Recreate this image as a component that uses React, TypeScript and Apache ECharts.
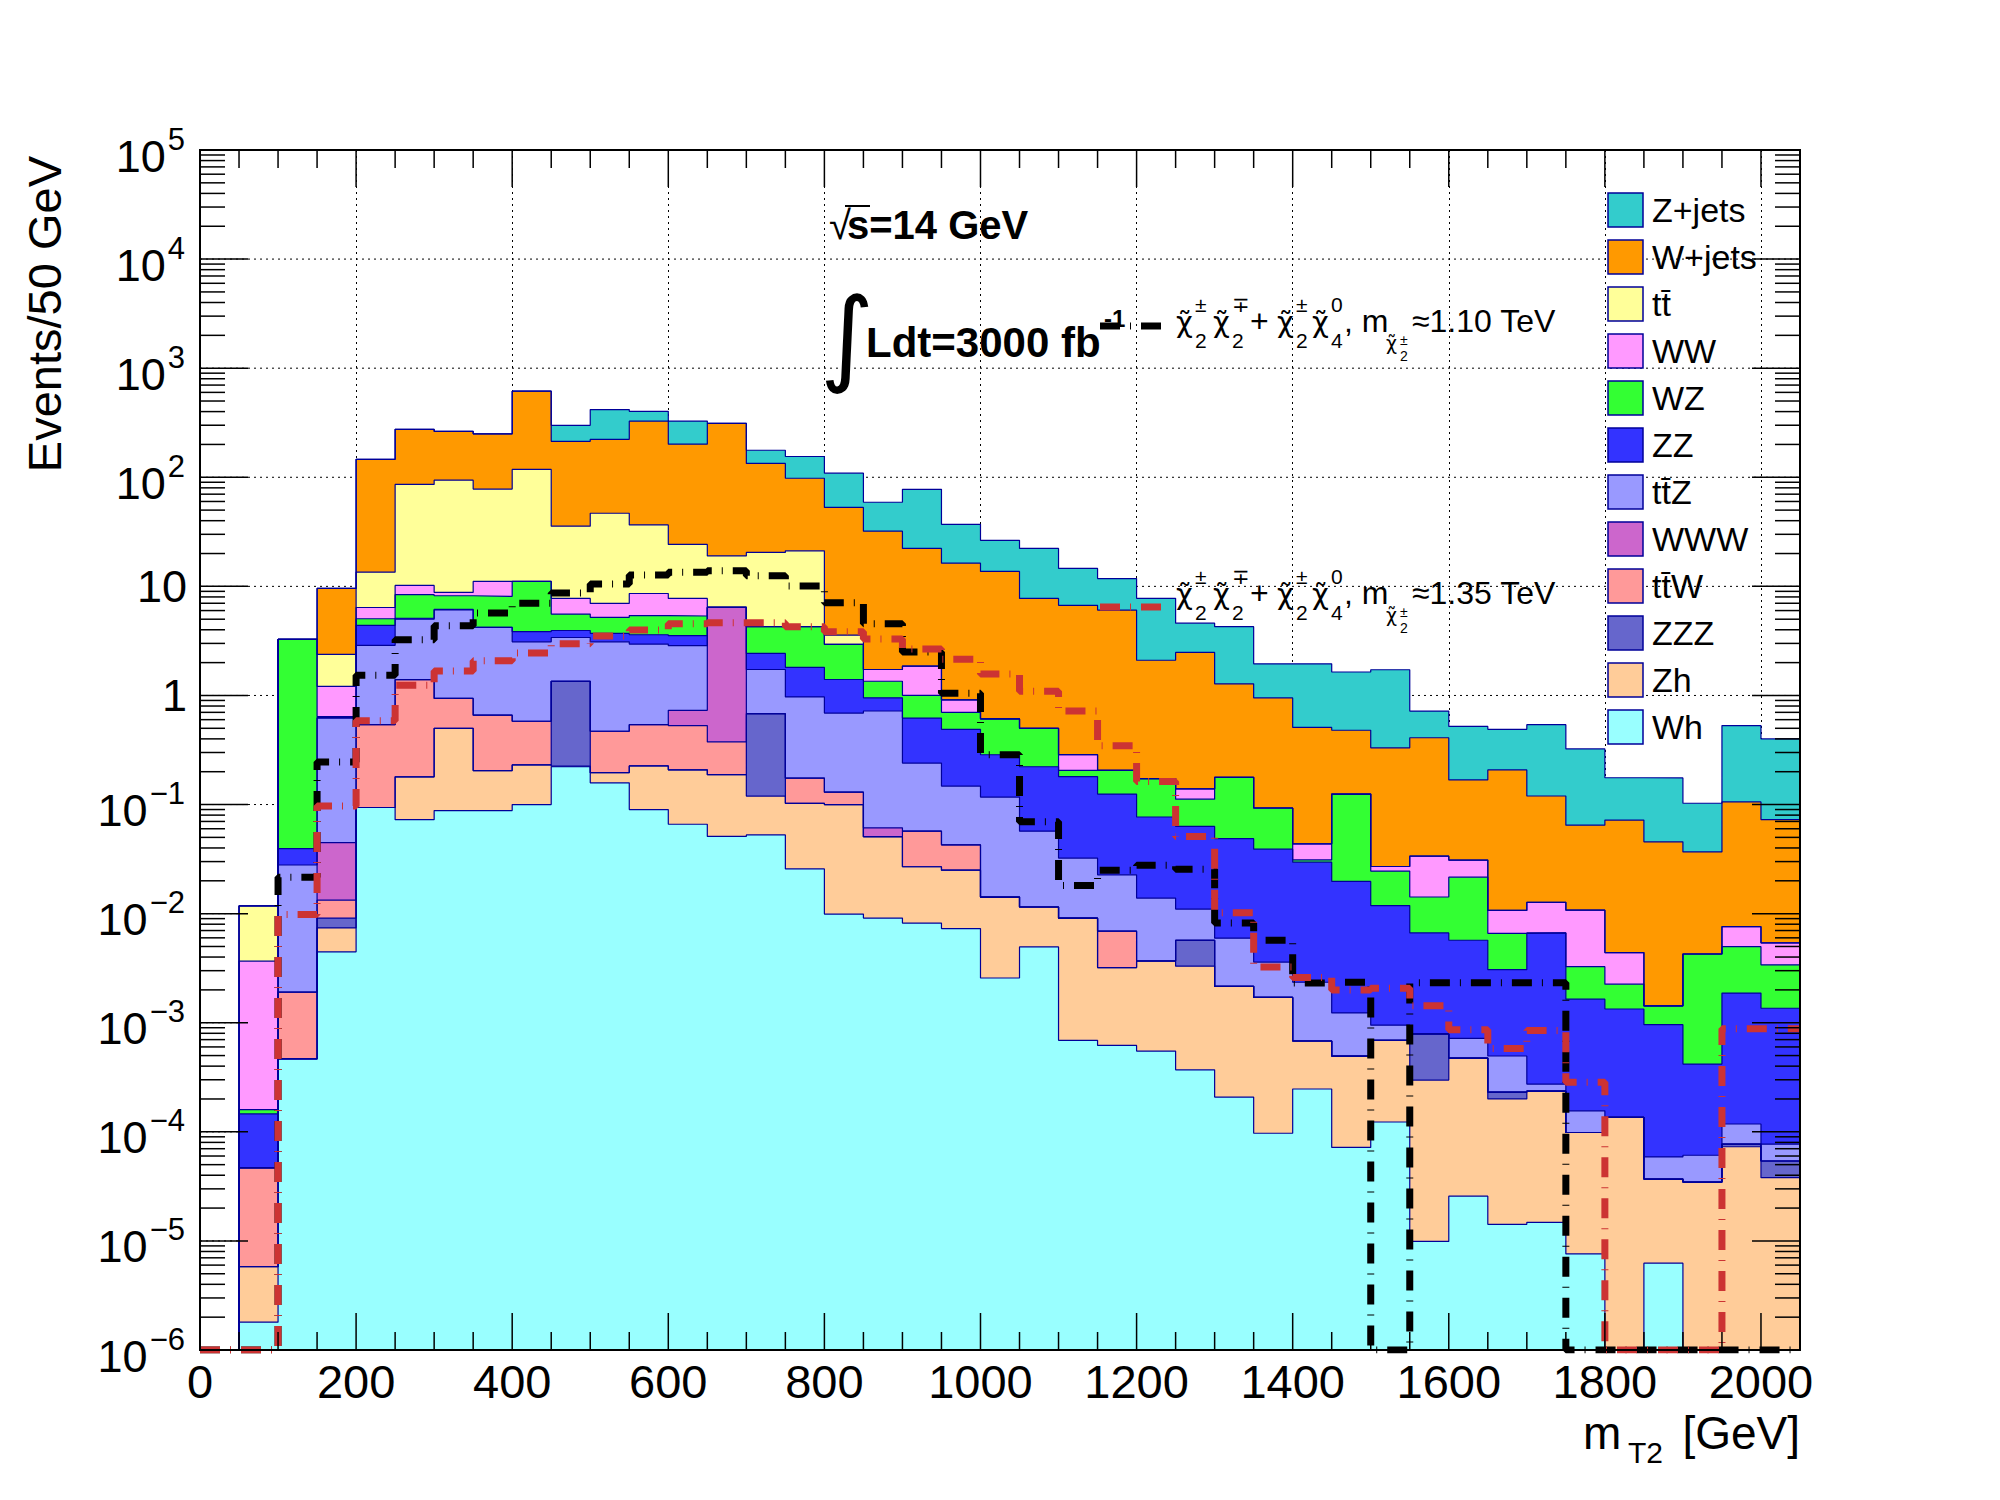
import React, { useEffect, useRef } from "react";
import * as echarts from "echarts";

const FONT = '"Liberation Sans", Arial, Helvetica, sans-serif';
const GREEK = '"DejaVu Sans", "Liberation Sans", sans-serif';

// ---- axis ranges / ticks ----
const X_MIN = 0;
const X_MAX = 2050;
const Y_MIN = 1e-6;
const Y_MAX = 1e5;
const binLowEdges = [
  0, 50, 100, 150, 200, 250, 300, 350, 400, 450,
  500, 550, 600, 650, 700, 750, 800, 850, 900, 950,
  1000, 1050, 1100, 1150, 1200, 1250, 1300, 1350, 1400, 1450,
  1500, 1550, 1600, 1650, 1700, 1750, 1800, 1850, 1900, 1950,
  2000,
];
const xTickLabels = [0, 200, 400, 600, 800, 1000, 1200, 1400, 1600, 1800, 2000];
const yTickPowers = [5, 4, 3, 2, 1, 0, -1, -2, -3, -4, -5, -6];

// ---- background processes (events / 50 GeV), stacked bottom -> top ----
const wh = [
  0, 1.8e-6, 4.66e-4, 4.47e-3, 0.094, 0.0726, 0.088, 0.088, 0.1, 0.222,
  0.158, 0.09, 0.066, 0.051, 0.0527, 0.0257, 0.0099, 0.0091, 0.0082, 0.0073,
  0.00257, 0.00495, 0.00069, 0.00062, 0.00055, 0.00037, 0.000208, 0.000097, 0.000247, 0.000072,
  0.000123, 0.0000099, 0.0000257, 0.0000142, 0.0000148, 0.0000076, 0, 0.00000625, 0, 0,
  0,
];
const zh = [
  0, 4.0e-6, 0, 2.93e-3, 0, 0.107, 0.412, 0.117, 0.131, 0.003,
  0.038, 0.136, 0.142, 0.137, 0.067, 0.077, 0.09, 0.0417, 0.0187, 0.0177,
  0.0116, 0.00655, 0.0084, 0.00258, 0.00313, 0.00293, 0.00195, 0.00161, 0.000433, 0.000423,
  0.000567, 0.000288, 0.000449, 0.000186, 0.000221, 0.000091, 0.000136, 0.0000306, 0.0000346, 0.000073,
  0.000038,
];
const zzz = [
  0, 0, 0, 1.7e-3, 0, 0, 0, 0, 0, 1.125,
  0, 0, 0, 0, 0.56, 0, 0, 0, 0, 0,
  0, 0, 0, 0, 0, 0.0024, 0, 0, 0, 0,
  0, 0.000492, 0, 0.000031, 0, 0, 0, 0, 0, 0.000004,
  0.000016,
];
const ttw = [
  0, 4.1e-5, 1.44e-3, 4.2e-3, 0.446, 1.22, 0.44, 0.455, 0.349, 0,
  0.274, 0.314, 0.322, 0.187, 0, 0.072, 0.03, 0, 0.0301, 0.0177,
  0, 0, 0, 0.0037, 0, 0, 0, 0, 0, 0,
  0, 0, 0, 0, 0, 0, 0, 0, 0, 0,
  0,
];
const www = [
  0, 0, 0, 0.0314, 0, 0, 0, 0, 0, 0,
  0, 0, 0.2, 6.03, 0, 0, 0, 0.0104, 0, 0,
  0, 0, 0, 0, 0, 0, 0, 0, 0, 0,
  0, 0, 0, 0, 0, 0, 0, 0, 0, 0,
  0,
];
const ttz = [
  0, 0, 0.026, 0.575, 2.34, 3.6, 5.16, 3.54, 2.52, 2.05,
  2.63, 2.42, 2.13, 0, 1.05, 0.795, 0.56, 0.659, 0.183, 0.105,
  0.103, 0.0455, 0.0232, 0.0158, 0.0102, 0.0053, 0.0038, 0.00189, 0.00167, 0.000735,
  0.00026, 0, 0.000245, 0.000264, 0.000038, 0.000057, 0, 0.000022, 0.0000264, 0.000041,
  0.000023,
];
const zz = [
  0, 9.9e-5, 0.0115, 0.01, 1.51, 0.1, 0.05, 0, 0.74, 0.54,
  0.61, 0.64, 0.67, 0, 0.7, 0.84, 0.71, 0.23, 0.38, 0.342,
  0.169, 0.165, 0.148, 0.102, 0.063, 0.052, 0.0427, 0.0354, 0.0273, 0.0185,
  0.0109, 0.00586, 0.00498, 0.00257, 0.00638, 0.00149, 0.0012, 0.0009, 0.000357, 0.00175,
  0.00128,
];
const wz = [
  0, 1.4e-5, 3.23, 0.01, 0.66, 3.3, 2.05, 3.9, 7.26, 1.63,
  1.49, 1.8, 1.82, 0, 1.84, 2.46, 1.54, 0.4, 0.38, 0.21,
  0.324, 0.278, 0.025, 0.081, 0.096, 0.049, 0.129, 0.054, 0.0014, 0.105,
  0.0127, 0.00755, 0.0159, 0.00354, 0, 0.00162, 0.00092, 0.00047, 0.00385, 0.00311,
  0.00204,
];
const ww = [
  0, 3.51e-3, 0, 0.57, 1.35, 1.8, 0.6, 3.0, 0, 2.19,
  1.78, 3.2, 2.41, 0, 0, 0, 0, 0.38, 0.86, 0.21,
  0, 0, 0.081, 0, 0, 0.027, 0, 0, 0.0126, 0,
  0.0025, 0.0194, 0.0094, 0.0041, 0.00605, 0.0075, 0.00214, 0, 0, 0.00262,
  0.002,
];
const tt = [
  0, 8.1e-3, 0, 1.17, 7.1, 75.8, 85.2, 66.9, 106.9, 27.9,
  39.8, 28, 16.5, 12.6, 16.2, 16.9, 0.63, 0, 0, 0,
  0, 0, 0, 0, 0, 0, 0, 0, 0, 0,
  0, 0, 0, 0, 0, 0, 0, 0, 0, 0,
  0,
];
const wjets = [
  0, 0, 0, 7.2, 132.5, 189, 170, 172, 497, 178,
  176, 290, 177, 293, 113.5, 76.8, 49.4, 30.3, 20.4, 15.4,
  13.1, 7.26, 6.41, 5.86, 1.93, 2.34, 1.1, 0.857, 0.466, 0.355,
  0.304, 0.376, 0.137, 0.197, 0.107, 0.054, 0.0676, 0.0441, 0.0325, 0.098,
  0.0674,
];
const zjets = [
  0, 0, 0, 0, 0, 0, 0, 0, 0, 86,
  195, 76, 126, 0, 43, 57, 56, 27, 55.3, 20.7,
  12.7, 14.5, 7.9, 5.73, 5.66, 2.12, 2.99, 1.0, 1.44, 1.16,
  1.39, 0.31, 0.352, 0.282, 0.42, 0.259, 0.104, 0.13, 0.066, 0.424,
  0.327,
];

// ---- signals ----
const sigM110 = [
  0, 0, 0.0215, 0.245, 1.53, 3.24, 4.35, 5.7, 7.0, 8.7,
  10.5, 12.7, 13.5, 13.9, 12.5, 10.1, 7.08, 4.54, 2.5, 1.05,
  0.286, 0.0697, 0.0181, 0.025, 0.0278, 0.0255, 0.0082, 0.0057, 0.00231, 0.00235,
  0, 0.00233, 0.00233, 0.00233, 0.00233, 0, 0, 0, 0, 0,
  0,
];
const sigM135 = [
  0, 0, 0.0098, 0.097, 0.586, 1.24, 1.68, 2.08, 2.45, 2.98,
  3.5, 3.98, 4.54, 4.64, 4.64, 4.27, 3.84, 3.29, 2.66, 2.15,
  1.57, 1.09, 0.72, 0.345, 0.163, 0.051, 0.0102, 0.00324, 0.0026, 0.002,
  0.00207, 0.00143, 0.00086, 0.00058, 0.00085, 0.000284, 0, 0, 0, 0.00088,
  0.00088,
];

const OUTLINE = "#000099";
const processes = [
  { label: "Wh", values: wh, color: "#99ffff" },
  { label: "Zh", values: zh, color: "#ffcc99" },
  { label: "ZZZ", values: zzz, color: "#6666cc" },
  { label: "tt\u0304W", values: ttw, color: "#ff9999" },
  { label: "WWW", values: www, color: "#cc66cc" },
  { label: "tt\u0304Z", values: ttz, color: "#9999ff" },
  { label: "ZZ", values: zz, color: "#3333ff" },
  { label: "WZ", values: wz, color: "#33ff33" },
  { label: "WW", values: ww, color: "#ff99ff" },
  { label: "tt\u0304", values: tt, color: "#ffff99" },
  { label: "W+jets", values: wjets, color: "#ff9900" },
  { label: "Z+jets", values: zjets, color: "#33cccc" },
];

function histPoints(vals: number[], floor: number) {
  const pts = vals.map((v, i) => [binLowEdges[i], Math.max(v, floor)]);
  pts.push([X_MAX, Math.max(vals[vals.length - 1], floor)]);
  return pts;
}

function txt(text: string, x: number, baseline: number, size: number, opt: any = {}) {
  return {
    type: "text",
    x,
    y: baseline - 0.35 * size,
    z: 100,
    silent: true,
    style: {
      text,
      fill: "#000",
      fontSize: size,
      fontFamily: opt.family || FONT,
      fontWeight: opt.bold ? "bold" : "normal",
      align: opt.align || "left",
      verticalAlign: "middle",
    },
  };
}

function sigLabel(Y: number, mass: string) {
  const M = 32, S = 21, SS = 14;
  const chi = "\u03C7\u0303";
  const g = { family: GREEK };
  return [
    txt(chi, 1176, Y, 29, g), txt("\u00B1", 1195, Y - 20, S), txt("2", 1195, Y + 16, S),
    txt(chi, 1213, Y, 29, g), txt("\u2213", 1232, Y - 20, S), txt("2", 1232, Y + 16, S),
    txt("+", 1250, Y, M),
    txt(chi, 1277, Y, 29, g), txt("\u00B1", 1296, Y - 20, S), txt("2", 1296, Y + 16, S),
    txt(chi, 1312, Y, 29, g), txt("0", 1331, Y - 20, S), txt("4", 1331, Y + 16, S),
    txt(", m", 1344, Y, M),
    txt(chi, 1386, Y + 18, 19, g), txt("\u00B1", 1400, Y + 13, SS), txt("2", 1400, Y + 29, SS),
    txt("\u2248" + mass + " TeV", 1412, Y, M),
  ];
}

function expWidth(s: string, size: number) {
  let w = 0;
  for (const c of s) w += c === "\u2212" ? 0.584 : 0.556;
  return w * size;
}

function buildOption() {
  // cumulative stack
  const n = binLowEdges.length;
  let run = new Array(n).fill(0);
  const cum: number[][] = [];
  for (const p of processes) {
    run = run.map((r, i) => r + p.values[i]);
    cum.push(run.slice());
  }

  const histSeries: any[] = [];
  for (let k = processes.length - 1; k >= 0; k--) {
    histSeries.push({
      type: "line",
      name: processes[k].label,
      step: "end",
      data: histPoints(cum[k], 1e-9),
      symbol: "none",
      showSymbol: false,
      silent: true,
      clip: true,
      z: 2,
      lineStyle: { color: OUTLINE, width: 1.2 },
      areaStyle: { color: processes[k].color, opacity: 1, origin: "start" },
    });
  }

  const sigSeries = [
    { data: sigM110, color: "#000000" },
    { data: sigM135, color: "#cc3333" },
  ].map((s) => ({
    type: "line",
    step: "end",
    data: histPoints(s.data, Y_MIN),
    symbol: "none",
    showSymbol: false,
    silent: true,
    clip: true,
    z: 3,
    lineStyle: { color: s.color, width: 7, type: [20, 10, 1, 10], cap: "butt" },
  }));

  const gridSeries = {
    type: "custom",
    coordinateSystem: "cartesian2d",
    data: [[1000, 1]],
    encode: { x: 0, y: 1 },
    silent: true,
    clip: false,
    z: 1,
    renderItem: (params: any, api: any) => {
      const [xl] = api.coord([X_MIN, 1]);
      const [xr] = api.coord([X_MAX, 1]);
      const children = yTickPowers
        .filter((p) => p < 5 && p > -6)
        .map((p) => {
          const [, py] = api.coord([X_MIN, Math.pow(10, p)]);
          return {
            type: "line",
            shape: { x1: xl, y1: py, x2: xr, y2: py },
            style: { stroke: "#000", lineWidth: 1, lineDash: [2, 4] },
          };
        });
      return { type: "group", children };
    },
  };

  const tickSeries = {
    type: "custom",
    coordinateSystem: "cartesian2d",
    data: [[1000, 1]],
    encode: { x: 0, y: 1 },
    silent: true,
    clip: false,
    z: 10,
    renderItem: (params: any, api: any) => {
      const [xl, yb] = api.coord([X_MIN, Y_MIN]);
      const [xr, yt] = api.coord([X_MAX, Y_MAX]);
      const children: any[] = [];
      const ln = (x1: number, y1: number, x2: number, y2: number) => ({
        type: "line",
        shape: { x1, y1, x2, y2 },
        style: { stroke: "#000", lineWidth: 1.5 },
      });
      for (const v of binLowEdges) {
        if (v <= X_MIN) continue;
        const [px] = api.coord([v, 1]);
        const L = v % 200 === 0 ? 37 : 18;
        children.push(ln(px, yb, px, yb - L));
        children.push(ln(px, yt, px, yt + L));
      }
      for (let p = -6; p <= 4; p++) {
        for (let m = 1; m <= 9; m++) {
          const [, py] = api.coord([X_MIN, m * Math.pow(10, p)]);
          const L = m === 1 ? 48 : 25;
          children.push(ln(xl, py, xl + L, py));
          children.push(ln(xr, py, xr - L, py));
        }
      }
      children.push({
        type: "rect",
        shape: { x: xl, y: yt, width: xr - xl, height: yb - yt },
        style: { fill: "none", stroke: "#000", lineWidth: 2 },
      });
      for (const p of yTickPowers) {
        const [, py] = api.coord([X_MIN, Math.pow(10, p)]);
        if (p === 0 || p === 1) {
          children.push({
            type: "text",
            x: 187,
            y: py,
            style: { text: p === 1 ? "10" : "1", fill: "#000", fontSize: 45, fontFamily: FONT, align: "right", verticalAlign: "middle" },
          });
        } else {
          const e = p < 0 ? "\u2212" + String(-p) : String(p);
          const ew = expWidth(e, 31);
          children.push({
            type: "text",
            x: 185,
            y: py - 11,
            style: { text: e, fill: "#000", fontSize: 31, fontFamily: FONT, align: "right", verticalAlign: "middle" },
          });
          children.push({
            type: "text",
            x: 185 - ew - 2,
            y: py + 6,
            style: { text: "10", fill: "#000", fontSize: 45, fontFamily: FONT, align: "right", verticalAlign: "middle" },
          });
        }
      }
      return { type: "group", children };
    },
  };

  // legend (top -> bottom)
  const legendEls: any[] = [];
  const legendItems = processes.slice().reverse();
  legendItems.forEach((p, i) => {
    const cy = 210 + 47 * i;
    legendEls.push({
      type: "rect",
      z: 100,
      silent: true,
      shape: { x: 1608, y: cy - 17, width: 35, height: 34 },
      style: { fill: p.color, stroke: OUTLINE, lineWidth: 1.5 },
    });
    legendEls.push({
      type: "text",
      x: 1652,
      y: cy,
      z: 100,
      silent: true,
      style: { text: p.label, fill: "#000", fontSize: 34, fontFamily: FONT, align: "left", verticalAlign: "middle" },
    });
  });

  const annotations: any[] = [
    txt("\u221A", 829, 239, 40),
    { type: "line", z: 100, silent: true, shape: { x1: 845, y1: 206, x2: 870, y2: 206 }, style: { stroke: "#000", lineWidth: 2 } },
    txt("s=14 GeV", 847, 239, 40, { bold: true }),
    txt("\u222B", 820, 372, 104, { family: '"DejaVu Sans", sans-serif' }),
    txt("Ldt=3000 fb", 866, 357, 42, { bold: true }),
    txt("-1", 1104, 327, 24, { bold: true }),
    {
      type: "line", z: 100, silent: true,
      shape: { x1: 1100, y1: 326, x2: 1168, y2: 326 },
      style: { stroke: "#000", lineWidth: 7, lineDash: [20, 10, 1, 10] },
    },
    ...sigLabel(332, "1.10"),
    {
      type: "line", z: 100, silent: true,
      shape: { x1: 1100, y1: 607, x2: 1168, y2: 607 },
      style: { stroke: "#cc3333", lineWidth: 7, lineDash: [20, 10, 1, 10] },
    },
    ...sigLabel(604, "1.35"),
    {
      type: "text",
      x: 44,
      y: 156,
      rotation: Math.PI / 2,
      z: 100,
      silent: true,
      style: { text: "Events/50 GeV", fill: "#000", fontSize: 47, fontFamily: FONT, align: "right", verticalAlign: "middle" },
    },
    txt("m", 1583, 1449, 46),
    txt("T2", 1628, 1463, 30),
    txt("[GeV]", 1800, 1449, 46, { align: "right" }),
  ];

  return {
    animation: false,
    backgroundColor: "#ffffff",
    grid: { left: 200, top: 150, width: 1600, height: 1200, containLabel: false, show: false },
    xAxis: {
      type: "value",
      min: X_MIN,
      max: X_MAX,
      interval: 200,
      axisLine: { show: false },
      axisTick: { show: false },
      splitLine: { show: true, lineStyle: { color: "#000", width: 1, type: [2, 4] } },
      axisLabel: {
        show: true,
        color: "#000",
        fontSize: 47,
        fontFamily: FONT,
        margin: 8,
        showMaxLabel: false,
        formatter: (v: number) => (xTickLabels.indexOf(v) >= 0 ? String(v) : ""),
      },
    },
    yAxis: {
      type: "log",
      logBase: 10,
      min: Y_MIN,
      max: Y_MAX,
      axisLine: { show: false },
      axisTick: { show: false },
      axisLabel: { show: false },
      splitLine: { show: false },
    },
    series: [gridSeries, ...histSeries, ...sigSeries, tickSeries],
    graphic: { elements: [...legendEls, ...annotations] },
  };
}

export default function App() {
  const ref = useRef<HTMLDivElement>(null);
  useEffect(() => {
    if (!ref.current) return;
    const chart = echarts.init(ref.current, null, { renderer: "svg" });
    chart.setOption(buildOption() as any);
    return () => chart.dispose();
  }, []);
  return (
    <div
      ref={ref}
      style={{ position: "absolute", left: 0, top: 0, width: 2000, height: 1500, background: "#fff" }}
    />
  );
}
